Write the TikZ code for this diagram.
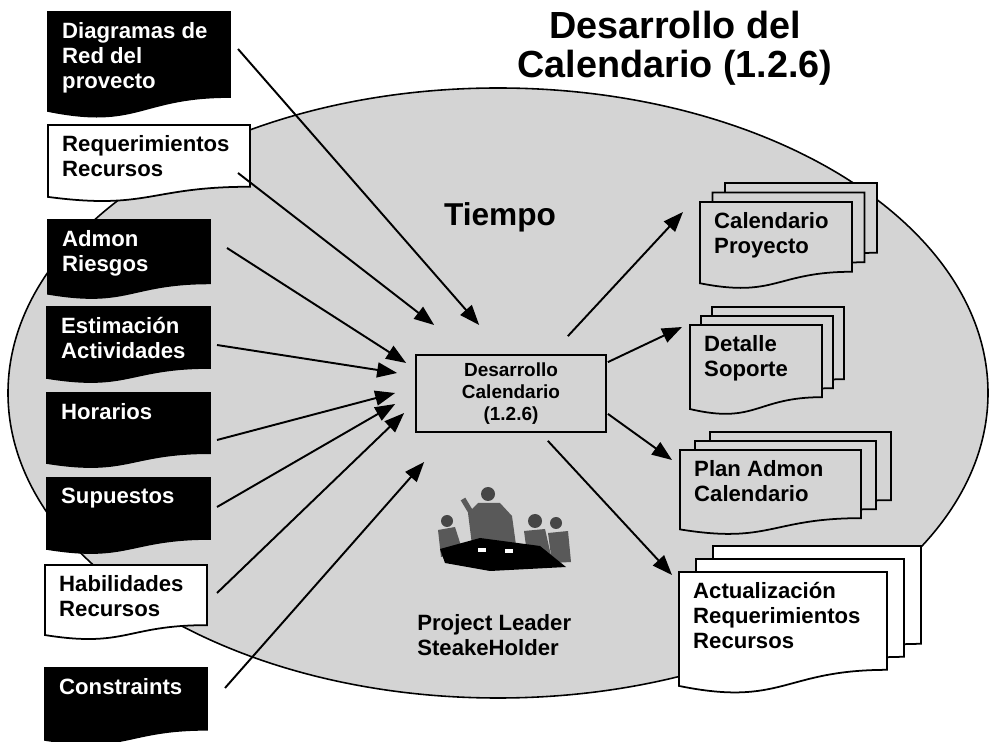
\documentclass[tikz,border=0pt]{standalone}
\usepackage{fontspec}
\setmainfont{Liberation Sans}
\usetikzlibrary{arrows.meta}

\definecolor{bggray}{RGB}{212,212,212}

% one sheet of the flowchart "document" shape (top left corner, width, height)
\newcommand\docpage[5]{%
  \path[#5] (#1,#2) -- ++(#3,0) -- ++(0,0.802*#4)
    .. controls +(-0.5*#3,0) and +(0.5*#3,0.173*#4) .. (#1,#2+0.934*#4) -- cycle;}

% input: a single sheet with its text
\newcommand\docnode[8]{% name, x, y, width, height, sheet style, text style, text
  \docpage{#2}{#3}{#4}{#5}{#6}
  \node[doctext,#7] (#1) at (#2,#3) {#8};}

% output: three stacked sheets, text on the front one
\newcommand\stackdoc[9]{% name, x, y, width, height, dx, dy, sheet style, text
  \foreach \k in {2,1,0}{\docpage{#2+\k*#6}{#3-\k*#7}{#4}{#5}{#8}}
  \node[doctext] (#1) at (#2,#3) {#9};}

\begin{document}
\begin{tikzpicture}[x=0.02cm, y=-0.02cm,
  blackdoc/.style={draw, fill=black, line width=1pt},
  whitedoc/.style={draw, fill=white, line width=1pt},
  graydoc/.style={draw, fill=bggray, line width=1pt},
  doctext/.style={anchor=north west, align=left, inner xsep=7.9pt, inner ysep=5.6pt,
    font=\bfseries\fontsize{12.6}{14.2}\selectfont},
  procbox/.style={draw, fill=bggray, line width=1pt, minimum width=3.8cm,
    minimum height=1.54cm, align=center, font=\bfseries\fontsize{10.8}{12.5}\selectfont},
  flow/.style={line width=1.1pt, -{Triangle[length=4mm, width=3mm]}}]

\path[use as bounding box, fill=white] (0,0) rectangle (990,742);

% process area
\draw[fill=bggray, line width=0.9pt] (498,393) ellipse (490 and 305);

% meeting people
\fill[gray!55!black] (447,521) circle (6);
\fill[gray!70!black] (438,530) -- (455,527) -- (463,552) -- (441,557) -- cycle;
\fill[gray!55!black] (488,494) circle (7);
\fill[gray!70!black] (468,513) -- (478,503) -- (500,503) -- (512,516) -- (516,545) -- (472,545) -- cycle;
\draw[gray!70!black, line width=3pt] (472,514) -- (463,499);
\fill[gray!55!black] (535,521) circle (7);
\fill[gray!70!black] (524,531) -- (545,529) -- (552,560) -- (528,561) -- cycle;
\fill[gray!55!black] (556,523) circle (6);
\fill[gray!70!black] (548,533) -- (568,531) -- (571,562) -- (552,563) -- cycle;
\fill[black] (440,549) -- (480,538) -- (540,546) -- (566,567) -- (490,571) -- (445,563) -- cycle;
\fill[white] (478,548) rectangle (486,552);
\fill[white] (505,549) rectangle (513,553);

% inputs
\docnode{diag}{48}{12}{182}{106}{blackdoc}{white}{Diagramas de\\Red del\\provecto}
\docnode{reqs}{48}{125}{202}{77}{whitedoc}{}{Requerimientos\\Recursos}
\docnode{riesgos}{48}{220}{162}{79}{blackdoc}{white}{Admon\\Riesgos}
\docnode{estim}{47}{307}{163}{76}{blackdoc}{white}{Estimación\\Actividades}
\docnode{horarios}{47}{393}{163}{75}{blackdoc}{white}{Horarios}
\docnode{supuestos}{47}{478}{163}{76}{blackdoc}{white}{Supuestos}
\docnode{habil}{45}{565}{162}{75}{whitedoc}{}{Habilidades\\Recursos}
\docnode{constr}{45}{668}{162}{77}{blackdoc}{white}{Constraints}

% outputs
\stackdoc{calproy}{700}{202}{152}{87}{12.5}{9.5}{graydoc}{Calendario\\Proyecto}
\stackdoc{detalle}{690}{325}{132}{90}{11}{9}{graydoc}{Detalle\\Soporte}
\stackdoc{planadm}{680}{450}{181}{85}{15}{9}{graydoc}{Plan Admon\\Calendario}
\stackdoc{actual}{679}{572}{208}{122}{17}{13}{whitedoc}{Actualización\\Requerimientos\\Recursos}

% process
\node[procbox] (desarrollo) at (511,393.5) {Desarrollo\\Calendario\\(1.2.6)};

\node[anchor=base, align=center, font=\bfseries\fontsize{21.5}{22.7}\selectfont]
  (titulo) at (675,78) {Desarrollo del\\Calendario (1.2.6)};
\node[anchor=base, font=\bfseries\fontsize{18}{20}\selectfont] (tiempo) at (500,226) {Tiempo};
\node[anchor=base west, align=left, inner sep=0pt, font=\bfseries\fontsize{12.6}{14.2}\selectfont]
  (lider) at (417,655) {Project Leader\\SteakeHolder};

% arrows in
\draw[flow] ([shift={(190,37)}]diag.north west) -- ([shift={(64,-68.5)}]desarrollo.west);
\draw[flow] ([shift={(190,48)}]reqs.north west) -- ([shift={(19,-68.5)}]desarrollo.west);
\draw[flow] ([shift={(179,28)}]riesgos.north west) -- ([shift={(-9,-30.5)}]desarrollo.west);
\draw[flow] ([shift={(170,38)}]estim.north west) -- ([shift={(-18,-20.5)}]desarrollo.west);
\draw[flow] ([shift={(170,47)}]horarios.north west) -- ([shift={(-20,-0.5)}]desarrollo.west);
\draw[flow] ([shift={(170,29)}]supuestos.north west) -- ([shift={(-20,10.5)}]desarrollo.west);
\draw[flow] ([shift={(172,28)}]habil.north west) -- ([shift={(-11,19.5)}]desarrollo.west);
\draw[flow] ([shift={(180,20)}]constr.north west) -- ([shift={(9,68.5)}]desarrollo.west);

% arrows out
\draw[flow] ([shift={(-39,-18)}]desarrollo.north east) -- ([shift={(-17,10)}]calproy.north west);
\draw[flow] ([shift={(1,8)}]desarrollo.north east) -- ([shift={(-8,2)}]detalle.north west);
\draw[flow] ([shift={(1,-19)}]desarrollo.south east) -- ([shift={(-8,10)}]planadm.north west);
\draw[flow] ([shift={(-59,8)}]desarrollo.south east) -- ([shift={(-7,3)}]actual.north west);
\end{tikzpicture}
\end{document}
